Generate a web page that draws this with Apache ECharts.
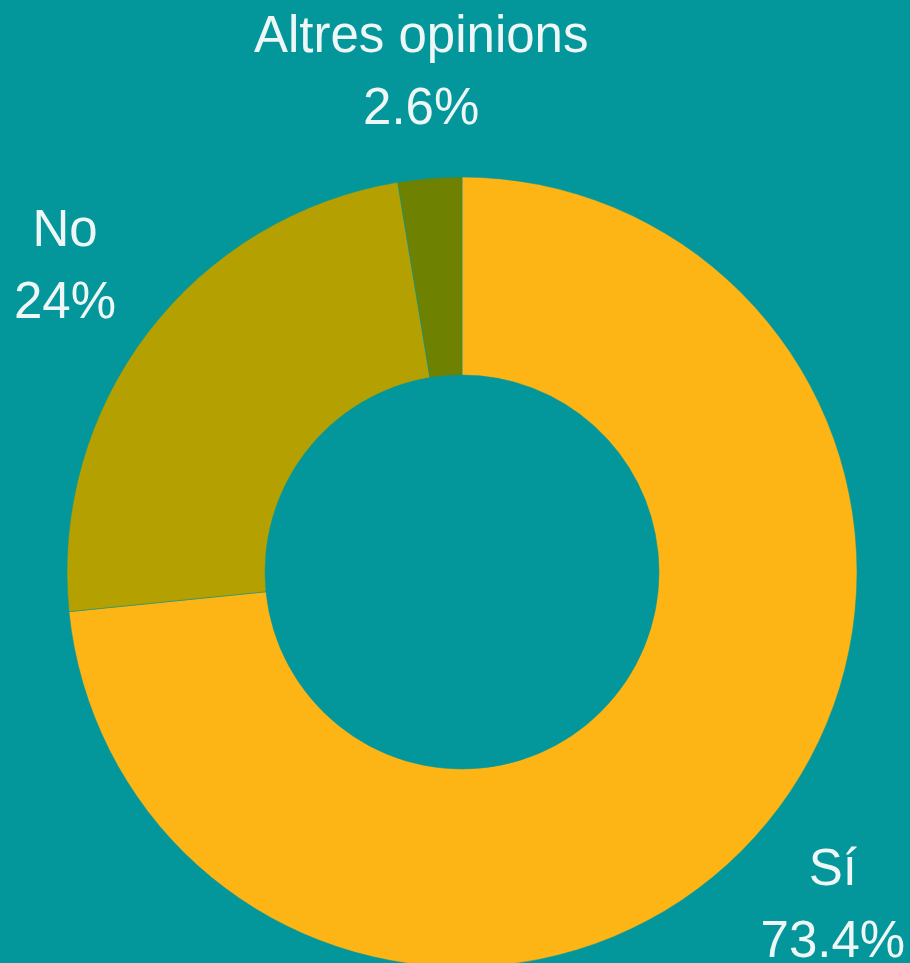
<!DOCTYPE html>
<html>
<head>
<meta charset="utf-8">
<script src="https://cdn.jsdelivr.net/npm/echarts@6/dist/echarts.min.js"></script>
<style>
  html, body { margin: 0; padding: 0; background: #03979b; }
  #chart { width: 910px; height: 963px; }
</style>
</head>
<body>
<div id="chart"></div>
<script>
// opinions (percent)
var categories = ['Sí', 'No', 'Altres opinions'];
var values = [73.4, 24, 2.6];
var colors = ['#fdb415', '#b4a000', '#6e8100'];

var chart = echarts.init(document.getElementById('chart'));

var option = {
    backgroundColor: '#03979b',
    series: [{
        type: 'pie',
        center: [462, 572],
        radius: [197, 395],
        startAngle: 90,
        clockwise: true,
        avoidLabelOverlap: false,
        itemStyle: {
            borderColor: '#03979b',
            borderWidth: 0.5
        },
        label: {
            show: true,
            position: 'outside',
            formatter: '{b}\n{c}%',
            color: '#eef6f6',
            fontFamily: 'Liberation Sans, Arial, sans-serif',
            fontSize: 51,
            lineHeight: 72
        },
        labelLine: {
            show: false,
            length: 105,
            length2: 0
        },
        // center each label on its slice's direction
        labelLayout: function (p) {
            return {
                align: 'center',
                verticalAlign: 'middle',
                dx: p.align === 'left' ? -5 : (p.align === 'right' ? 5 : 0)
            };
        },
        emphasis: { disabled: true },
        data: categories.map(function (c, i) {
            return { name: c, value: values[i], itemStyle: { color: colors[i] } };
        })
    }]
};

chart.setOption(option);
</script>
</body>
</html>
